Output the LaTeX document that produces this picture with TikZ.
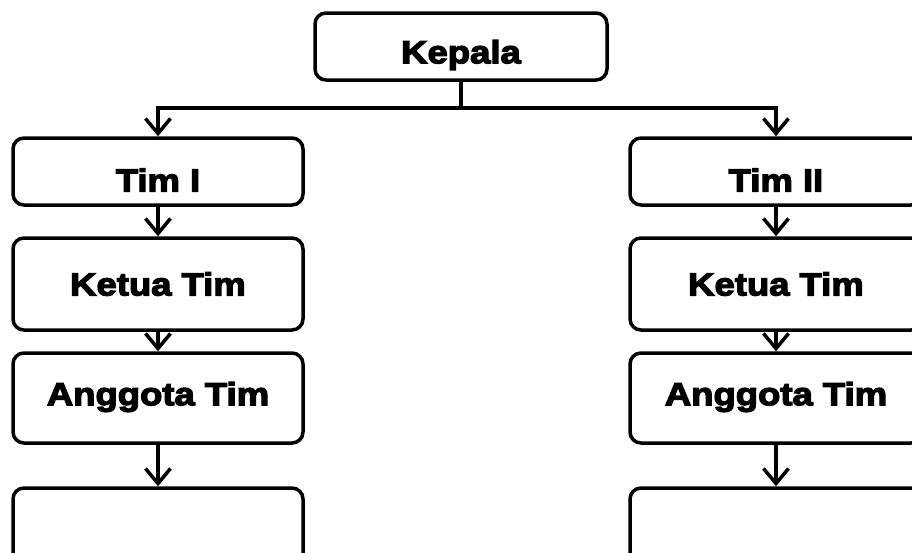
\documentclass[tikz,border=0pt]{standalone}
\usepackage{fontspec}
\usetikzlibrary{arrows.meta}
\newfontfamily\blk{Liberation Sans}[UprightFont={* Bold}, UprightFeatures={FakeBold=4}, FakeStretch=1.14]
\tikzset{
  box/.style={draw, line width=3.5pt, rounded corners=11pt, fill=white, inner sep=0pt},
  lbl/.style={font=\blk\fontsize{32}{35}\selectfont, inner sep=0pt},
  conn/.style={line width=3.5pt, -{Straight Barb[length=15pt, width=25pt, line width=3.5pt]}},
  plain/.style={line width=3.5pt},
}
\begin{document}
\begin{tikzpicture}[x=1pt, y=-1pt]
\useasboundingbox (0,0) rectangle (912,552);
\clip (0,0) rectangle (912,552);
% Kepala
\node[box, minimum width=292pt, minimum height=67pt] (kep) at (461,46.5) {};
\node[lbl] (kept) at (461,55) {Kepala};
% left column
\node[box, minimum width=290pt, minimum height=67pt] (t1) at (158,171.5) {};
\node[lbl] (t1t) at (158,180) {Tim I};
\node[box, minimum width=290pt, minimum height=92pt] (k1) at (158,284) {};
\node[lbl] (k1t) at (158,284) {Ketua Tim};
\node[box, minimum width=290pt, minimum height=90pt] (a1) at (158,398) {};
\node[lbl] (a1t) at (158,397) {Anggota Tim};
\node[box, minimum width=290pt, minimum height=110pt] (b1) at (158,543) {};
% right column
\node[box, minimum width=292pt, minimum height=67pt] (t2) at (776,171.5) {};
\node[lbl] (t2t) at (776,180) {Tim II};
\node[box, minimum width=292pt, minimum height=92pt] (k2) at (776,284) {};
\node[lbl] (k2t) at (776,284) {Ketua Tim};
\node[box, minimum width=292pt, minimum height=90pt] (a2) at (776,398) {};
\node[lbl] (a2t) at (776,397) {Anggota Tim};
\node[box, minimum width=292pt, minimum height=110pt] (b2) at (776,543) {};
% connectors
\coordinate (jn) at (461,108);
\draw[plain] (kep.south) -- (jn);
\draw[conn] (jn) -| (t1.north);
\draw[conn] (jn) -| (t2.north);
\draw[conn] (t1.south) -- (k1.north);
\draw[conn] (k1.south) -- (a1.north);
\draw[conn] (a1.south) -- (b1.north);
\draw[conn] (t2.south) -- (k2.north);
\draw[conn] (k2.south) -- (a2.north);
\draw[conn] (a2.south) -- (b2.north);
\end{tikzpicture}
\end{document}
